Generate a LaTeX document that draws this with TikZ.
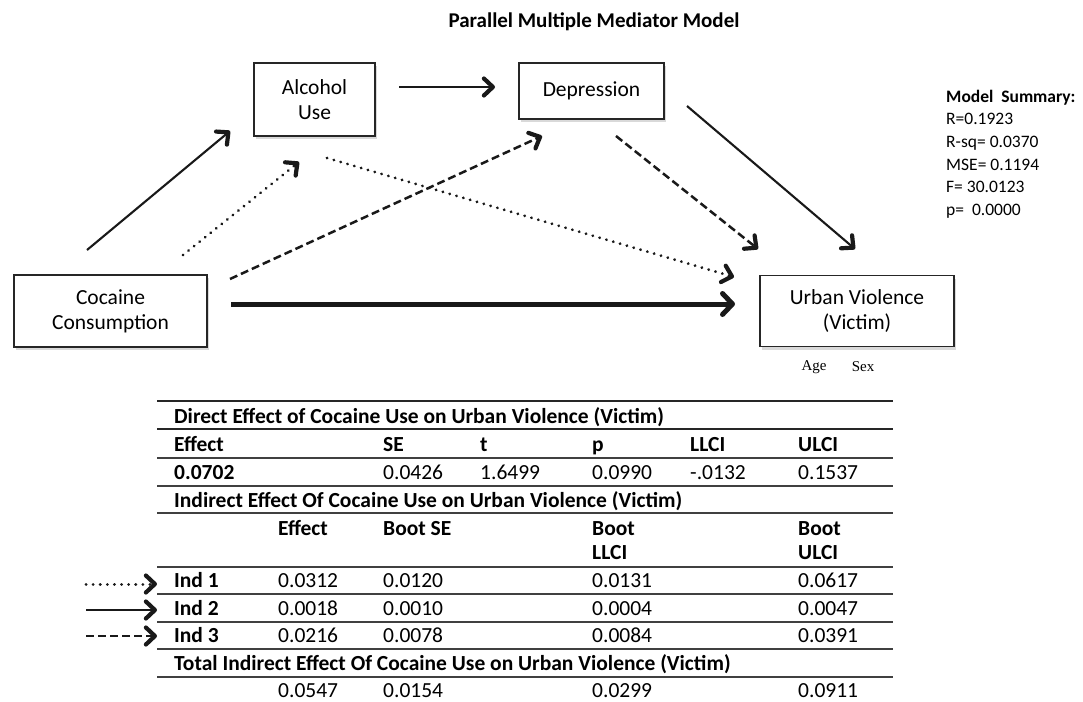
\documentclass[tikz,border=0pt]{standalone}
\usepackage{fontspec}
\setmainfont{Carlito}
\newfontfamily\covfont{Liberation Serif}
\usetikzlibrary{arrows.meta, shadows, calc}
\tikzset{
    base/.style = {
        draw=black!85, line width=1.8pt, fill=white, align=center, inner sep=0pt,
        font=\fontsize{21.5}{25}\selectfont,
        drop shadow={shadow xshift=2pt, shadow yshift=-3pt, opacity=0.3}
    },
    % Variables
    var/.style = {base, rectangle},
    % Paths
    link/.style     = {draw=black!90, line width=2.1pt, ->, >={Straight Barb[length=9pt, width=17pt, line width=4.2pt, round]}},
    dotlink/.style  = {link, line width=3pt, dash pattern=on 0.1pt off 7pt, line cap=round},
    dashlink/.style = {link, line width=2.5pt, dash pattern=on 8pt off 4pt},
    mainlink/.style = {link, line width=5pt, >={Straight Barb[length=10pt, width=21pt, line width=5pt, round]}},
    % Table
    cell/.style  = {anchor=base west, inner sep=0pt, font=\fontsize{21.5}{24}\selectfont},
    head/.style  = {cell, font=\bfseries\fontsize{21.5}{24}\selectfont},
    rule/.style  = {draw=black!75, line width=1.6pt},
    thickrule/.style = {rule, draw=black!85, line width=2.8pt},
    note/.style  = {inner sep=0pt, font=\covfont\fontsize{15}{18}\selectfont}
}
\begin{document}
\begin{tikzpicture}[x=1pt, y=-1pt]
    \useasboundingbox (0,0) rectangle (1083,701);

    \node (title) [font=\bfseries\fontsize{21}{24}\selectfont] at (594,22) {Parallel Multiple Mediator Model};

    % Variables
    \node (coc) [var, minimum width=193pt, minimum height=72pt] at (110.5,311) {Cocaine\\Consumption};
    \node (alc) [var, minimum width=121pt, minimum height=73pt] at (314.5,99.5) {Alcohol\\Use};
    \node (dep) [var, minimum width=145pt, minimum height=56pt] at (591.5,91) {Depression};
    \node (urb) [var, minimum width=194pt, minimum height=71pt] at (857,311) {Urban Violence\\(Victim)};

    \node (age) [note] at (814,367) {Age};
    \node (sex) [note] at (863,367) {Sex};

    \node (summary) [anchor=west, align=left, inner sep=0pt, font=\fontsize{17.5}{22.6}\selectfont] at (946,154)
        {\textbf{Model\ \ Summary:}\\R=0.1923\\R-sq= 0.0370\\MSE= 0.1194\\F= 30.0123\\p=\ \ 0.0000};

    % Path ends
    \coordinate (coc-a1) at (87,250);   \coordinate (alc-a1) at (230,131);
    \coordinate (coc-a2) at (183,255);  \coordinate (alc-a2) at (299,162);
    \coordinate (coc-d)  at (230,279);  \coordinate (dep-c)  at (542,136);
    \coordinate (coc-u)  at (231,304);  \coordinate (urb-c)  at (735,304);
    \coordinate (alc-d)  at (399,87);   \coordinate (dep-a)  at (495,87);
    \coordinate (alc-u)  at (327,158);  \coordinate (urb-a)  at (734,277);
    \coordinate (dep-u1) at (616,136);  \coordinate (urb-d1) at (758,249);
    \coordinate (dep-u2) at (687,106);  \coordinate (urb-d2) at (855,249);

    % Paths
    \draw [link] (coc-a1) -- (alc-a1);
    \draw [dotlink] (coc-a2) -- (alc-a2);
    \draw [dashlink] (coc-d) -- (dep-c);
    \draw [mainlink] (coc-u) -- (urb-c);
    \draw [link] (alc-d) -- (dep-a);
    \draw [dotlink] (alc-u) -- (urb-a);
    \draw [dashlink] (dep-u1) -- (urb-d1);
    \draw [link] (dep-u2) -- (urb-d2);

    % Table rules
    \draw [thickrule] (157,401) -- (893,401);
    \draw [thickrule] (157,429) -- (893,429);
    \foreach \y in {458,486,513,567,594,622,649,677}
        \draw [rule] (157,\y) -- (893,\y);

    % Direct effect
    \node (dtitle) [head] at (174,423) {Direct Effect of Cocaine Use on Urban Violence (Victim)};
    \foreach \x/\t [count=\i] in {174/Effect, 383/SE, 480/t, 592/p, 690/LLCI, 798/ULCI}
        \node (dh\i) [head] at (\x,451) {\t};
    \node (dv1) [head] at (174,479) {0.0702};
    \foreach \x/\t [count=\i from 2] in {383/0.0426, 480/1.6499, 592/0.0990, 690/-.0132, 798/0.1537}
        \node (dv\i) [cell] at (\x,479) {\t};

    % Indirect effect
    \node (ititle) [head] at (174,507) {Indirect Effect Of Cocaine Use on Urban Violence (Victim)};
    \foreach \x/\t [count=\i] in {278/Effect, 383/Boot SE, 592/Boot, 798/Boot}
        \node (ih\i) [head] at (\x,535) {\t};
    \node (ih5) [head] at (592,559) {LLCI};
    \node (ih6) [head] at (798,559) {ULCI};
    \foreach \y/\a/\b/\c/\d [count=\i] in {587/0.0312/0.0120/0.0131/0.0617,
                                          615/0.0018/0.0010/0.0004/0.0047,
                                          642/0.0216/0.0078/0.0084/0.0391} {
        \node (ind\i) [head] at (174,\y) {Ind \i};
        \node (ie\i) [cell] at (278,\y) {\a};
        \node (is\i) [cell] at (383,\y) {\b};
        \node (il\i) [cell] at (592,\y) {\c};
        \node (iu\i) [cell] at (798,\y) {\d};
    }

    % Legend
    \draw [dotlink]  ([shift={(-88pt,3pt)}]ind1.base west) -- ([shift={(-17pt,3pt)}]ind1.base west);
    \draw [link]     ([shift={(-88pt,5pt)}]ind2.base west) -- ([shift={(-17pt,5pt)}]ind2.base west);
    \draw [dashlink] ([shift={(-88pt,6pt)}]ind3.base west) -- ([shift={(-17pt,6pt)}]ind3.base west);

    % Total indirect effect
    \node (ttitle) [head] at (174,670) {Total Indirect Effect Of Cocaine Use on Urban Violence (Victim)};
    \foreach \x/\t [count=\i] in {278/0.0547, 383/0.0154, 592/0.0299, 798/0.0911}
        \node (tv\i) [cell] at (\x,697) {\t};
\end{tikzpicture}
\end{document}
